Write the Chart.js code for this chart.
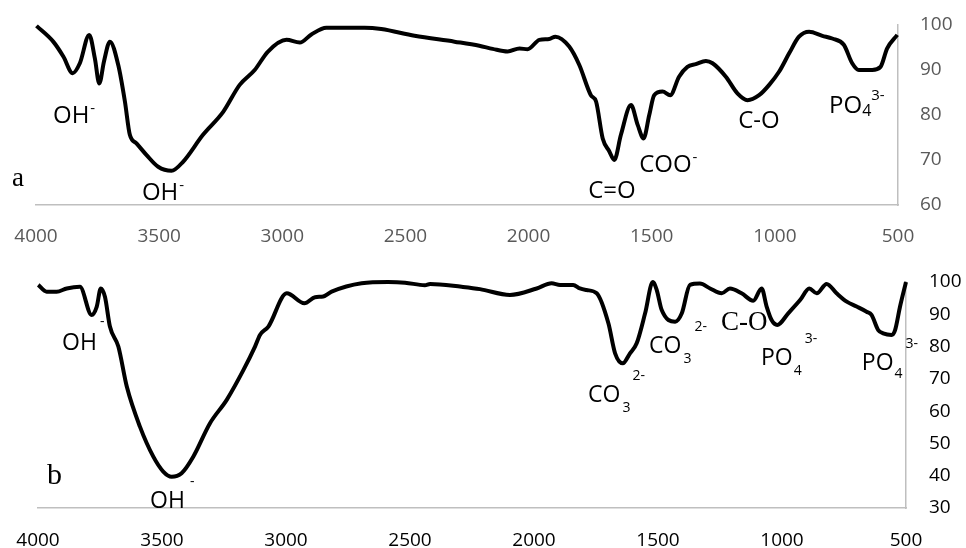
<!DOCTYPE html>
<html>
<head>
<meta charset="utf-8">
<script src="https://cdn.jsdelivr.net/npm/chart.js@4.4.1/dist/chart.umd.min.js"></script>
<style>
  body { margin: 0; background: #fff; }
  .panel { position: absolute; left: 0; }
</style>
</head>
<body>
<div class="panel" style="top:0"><canvas id="chartA" width="966" height="250"></canvas></div>
<div class="panel" style="top:250px"><canvas id="chartB" width="966" height="298"></canvas></div>
<script>
// wavenumber (cm-1) and transmittance (%)
const wavenumbersA = [3998, 3930, 3889, 3851, 3822, 3784, 3761, 3743, 3724, 3700, 3666, 3639, 3619, 3592, 3551, 3504, 3450, 3403, 3322, 3240, 3173, 3112, 3058, 2983, 2929, 2882, 2821, 2666, 2598, 2463, 2301, 2200, 2146, 2085, 2037, 2004, 1956, 1916, 1891, 1835, 1794, 1747, 1726, 1699, 1672, 1652, 1625, 1584, 1557, 1533, 1510, 1490, 1456, 1425, 1389, 1355, 1321, 1280, 1253, 1199, 1152, 1111, 1064, 1023, 983, 942, 902, 861, 807, 767, 720, 686, 659, 605, 571, 544, 503];
const transmittanceA = [99.8, 96.3, 93, 89.3, 91.5, 97.8, 92.6, 87, 91.9, 96.3, 91.1, 83, 75.6, 73.7, 71.1, 68.5, 67.6, 69.6, 75.6, 80.7, 86.7, 90, 94.1, 96.7, 96.1, 97.9, 99.4, 99.4, 99.1, 97.6, 96.3, 95.4, 94.7, 94.1, 94.8, 94.6, 96.7, 96.9, 97.4, 95.2, 91.1, 84.4, 83, 74.8, 71.9, 70, 75.6, 82.2, 77.8, 74.8, 80, 84.4, 85.2, 84.4, 88.5, 90.7, 91.3, 92, 91.5, 88.5, 84.8, 83.3, 84.4, 86.7, 89.6, 93.7, 97.4, 98.5, 97.6, 97, 95.6, 91.5, 90, 90, 90.7, 94.8, 97.8];

const wavenumbersB = [3999, 3965, 3925, 3884, 3831, 3784, 3763, 3747, 3730, 3710, 3676, 3642, 3589, 3535, 3495, 3461, 3421, 3374, 3307, 3239, 3172, 3125, 3105, 3071, 2997, 2926, 2883, 2850, 2816, 2695, 2588, 2520, 2440, 2419, 2292, 2218, 2097, 1989, 1929, 1895, 1842, 1815, 1788, 1747, 1700, 1673, 1642, 1613, 1586, 1552, 1521, 1505, 1485, 1431, 1404, 1371, 1331, 1290, 1243, 1210, 1163, 1116, 1082, 1062, 1042, 1019, 975, 927, 890, 860, 820, 780, 739, 699, 659, 639, 612, 592, 558, 544, 524, 500];
const transmittanceB = [99.1, 97, 97, 98, 98.5, 89.8, 92.4, 98, 95.4, 86.2, 80, 67.6, 55.2, 45.9, 41.3, 39.7, 40.8, 45.9, 56.2, 63.5, 72.7, 80, 83.6, 86.2, 96.5, 93.4, 95.3, 95.5, 97, 99.6, 100, 99.8, 99, 99.4, 98.5, 97.8, 96, 98, 99.6, 99.1, 99.1, 98, 97.5, 96.5, 87.2, 77.9, 74.8, 77.9, 81, 90.3, 100, 97.5, 91.3, 87.7, 90.3, 99.1, 99.5, 98, 96.5, 98, 96.5, 94.2, 98, 92.4, 88.2, 86.7, 90.3, 94.4, 98, 96.5, 99.4, 96.5, 93.9, 92.4, 90.8, 89.8, 85.1, 84.1, 83.6, 85.1, 92.4, 100];

const xTicks = [4000, 3500, 3000, 2500, 2000, 1500, 1000, 500];
const yTicksA = [60, 70, 80, 90, 100];
const yTicksB = [30, 40, 50, 60, 70, 80, 90, 100];

const SANS = '"Open Sans", sans-serif';
const SERIF = '"Liberation Serif", "DejaVu Serif", serif';

// band labels: anchor (wavenumber, %T) = left end / baseline of the first piece
// each piece: [text, font size, baseline shift, gap before, family]
const bandLabelsA = [
  { wn: 4097, t: 64.2, parts: [["a", 27, 0, 0, SERIF]] },
  { wn: 3931, t: 78.2, parts: [["OH", 24, 0, 0], ["-", 15, -10, 1]] },
  { wn: 3570, t: 61.1, parts: [["OH", 24, 0, 0], ["-", 15, -10, 1]] },
  { wn: 1758, t: 61.6, parts: [["C=O", 24, 0, 0]] },
  { wn: 1551, t: 67.3, parts: [["COO", 24, 0, 0], ["-", 15, -10, 1]] },
  { wn: 1149, t: 77.1, parts: [["C-O", 24, 0, 0]] },
  { wn: 780, t: 80.4, parts: [["PO", 24, 0, 0], ["4", 16, 3, 0], ["3-", 15, -13, 0]] }
];
const bandLabelsB = [
  { wn: 3964, t: 37.4, parts: [["b", 30, 0, 0, SERIF]] },
  { wn: 3903, t: 78.9, parts: [["OH", 23, 0, 0], ["-", 14, -24, 3]] },
  { wn: 3548, t: 30.0, parts: [["OH", 23, 0, 0], ["-", 14, -22, 5]] },
  { wn: 1782, t: 62.8, parts: [["CO", 23, 0, 0], ["3", 14, 10, 2], ["2-", 14, -22, 2]] },
  { wn: 1536, t: 78.0, parts: [["CO", 23, 0, 0], ["3", 14, 10, 2], ["2-", 14, -22, 3]] },
  { wn: 1246, t: 85.1, parts: [["C-O", 27, 0, 0, SERIF]] },
  { wn: 1085, t: 74.3, parts: [["PO", 23, 0, 0], ["4", 14, 10, 1], ["3-", 14, -22, 3]] },
  { wn: 678, t: 72.7, parts: [["PO", 23, 0, 0], ["4", 14, 8, 1], ["3-", 14, -22, 3]] }
];

function labelPlugin(labels) {
  return {
    id: "bandLabels",
    afterDraw(chart) {
      const ctx = chart.ctx;
      const xs = chart.scales.x, ys = chart.scales.y;
      ctx.save();
      ctx.fillStyle = "#000";
      ctx.textBaseline = "alphabetic";
      ctx.textAlign = "left";
      labels.forEach(lb => {
        let x = xs.getPixelForValue(lb.wn);
        const y = ys.getPixelForValue(lb.t);
        lb.parts.forEach(([txt, size, dy, gap, fam]) => {
          ctx.font = size + "px " + (fam || SANS);
          x += gap;
          ctx.fillText(txt, x, y + dy);
          x += ctx.measureText(txt).width;
        });
      });
      ctx.restore();
    }
  };
}

// keep the plot box where the layout padding puts it
function noLabelPadding(s) {
  s.paddingTop = 0;
  s.paddingBottom = 0;
  s.paddingLeft = 0;
  s.paddingRight = 0;
}

function makeChart(canvasId, wn, tr, yTicks, opts) {
  const ctx = document.getElementById(canvasId).getContext("2d");
  return new Chart(ctx, {
    type: "line",
    data: {
      datasets: [{
        data: wn.map((w, i) => ({ x: w, y: tr[i] })),
        borderColor: "#000",
        borderWidth: 4,
        pointRadius: 0,
        cubicInterpolationMode: "monotone",
        clip: 10
      }]
    },
    options: {
      responsive: false,
      animation: false,
      devicePixelRatio: 1,
      layout: { autoPadding: false, padding: { left: opts.left, top: opts.top, right: 0, bottom: 0 } },
      plugins: { legend: { display: false }, tooltip: { enabled: false } },
      scales: {
        x: {
          type: "linear",
          reverse: true,
          min: 500,
          max: 4000,
          afterBuildTicks: s => { s.ticks = xTicks.map(v => ({ value: v })); },
          afterFit: s => { s.height = opts.xHeight; noLabelPadding(s); },
          ticks: { color: opts.tickColor, font: { family: SANS, size: 19 }, padding: opts.xPad, maxRotation: 0, callback: v => String(v) },
          grid: { color: "rgba(0,0,0,0)", drawTicks: false, drawOnChartArea: false },
          border: { color: "#bfbfbf", width: 1.5 }
        },
        y: {
          position: "right",
          min: yTicks[0],
          max: yTicks[yTicks.length - 1],
          afterBuildTicks: s => { s.ticks = yTicks.map(v => ({ value: v })); },
          afterFit: s => { s.width = opts.yWidth; noLabelPadding(s); },
          ticks: { color: opts.tickColor, font: { family: SANS, size: 19 }, padding: opts.yPad, callback: v => String(v) },
          grid: { color: "rgba(0,0,0,0)", drawTicks: false, drawOnChartArea: false },
          border: { color: "#bfbfbf", width: 1.5 }
        }
      }
    },
    plugins: [labelPlugin(opts.labels)]
  });
}

makeChart("chartA", wavenumbersA, transmittanceA, yTicksA, {
  left: 36, top: 25, xHeight: 45, yWidth: 68, xPad: 20, yPad: 22, tickColor: "#595959", labels: bandLabelsA
});
makeChart("chartB", wavenumbersB, transmittanceB, yTicksB, {
  left: 38, top: 32, xHeight: 40, yWidth: 60, xPad: 21, yPad: 23, tickColor: "#000", labels: bandLabelsB
});
</script>
</body>
</html>
